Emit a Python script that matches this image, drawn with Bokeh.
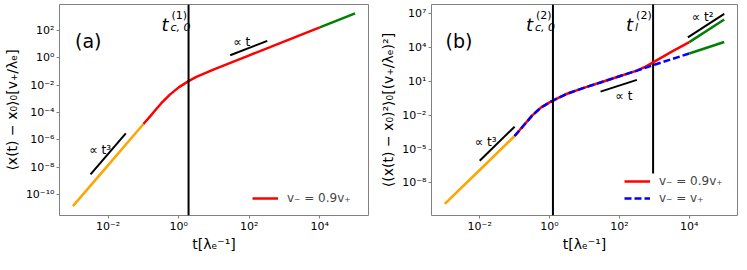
from bokeh.plotting import figure
from bokeh.layouts import row
from bokeh.models import Span, Label, Legend, LegendItem, FixedTicker
from bokeh.embed import file_html
from bokeh.resources import INLINE

FONT = "DejaVu Sans"

# ---------------- data: panel (a) ----------------
a_orange_t = [0.001, 0.01, 0.1]
a_orange_y = [1.41e-11, 1.41e-8, 1.41e-5]
a_red_t = [0.1, 0.178, 0.316, 0.562, 1.0, 1.9, 3.16, 10, 100, 1000, 10000]
a_red_y = [1.41e-5, 7.9e-5, 4.5e-4, 2.0e-3, 6.8e-3, 1.95e-2, 3.98e-2, 0.141, 1.48, 15.5, 166]
a_green_t = [10000, 100000]
a_green_y = [166, 1740]
a_guide3_t = [0.00316, 0.0316]
a_guide3_y = [2.95e-9, 2.95e-6]
a_guide1_t = [28.8, 324]
a_guide1_y = [1.51, 17.0]
a_tc = 1.9

# ---------------- data: panel (b) ----------------
b_orange_t = [0.001, 0.01, 0.1]
b_orange_y = [1.41e-10, 1.41e-7, 1.41e-4]
b_red_t = [0.1, 0.178, 0.316, 0.562, 1.0, 1.78, 3.16, 10, 31.6, 100, 316,
           562, 1000, 1780, 3160, 5620, 10000]
b_red_y = [1.41e-4, 1.12e-3, 8.9e-3, 4.47e-2, 0.132, 0.331, 0.759, 2.63, 8.32, 26.3, 83.2,
           191, 525, 1445, 3981, 10470, 27540]
b_blue_t = [0.1, 0.178, 0.316, 0.562, 1.0, 1.78, 3.16, 10, 31.6, 100, 316,
            1000, 3160, 10000]
b_blue_y = [1.41e-4, 1.12e-3, 8.9e-3, 4.47e-2, 0.132, 0.331, 0.759, 2.63, 8.32, 26.3, 83.2,
            275, 871, 2690]
b_green_hi_t = [10000, 100000]
b_green_hi_y = [27540, 2.75e6]
b_green_lo_t = [10000, 100000]
b_green_lo_y = [2690, 2.82e4]
b_guide3_t = [0.01, 0.1]
b_guide3_y = [9.3e-7, 9.3e-4]
b_guide1_t = [28.8, 316]
b_guide1_y = [1.17, 12.8]
b_guide2_t = [9120, 100000]
b_guide2_y = [7.1e4, 8.5e6]
b_tc = 1.25
b_tl = 920
b_tl_bottom = 6.9e-8

# ---------------- ticks ----------------
x_ticks = [0.01, 1, 100, 10000]
x_tick_labels = ["10⁻²", "10⁰", "10²", "10⁴"]
a_y_ticks = [1e-10, 1e-8, 1e-6, 1e-4, 1e-2, 1, 100]
a_y_tick_labels = ["10⁻¹⁰", "10⁻⁸", "10⁻⁶", "10⁻⁴", "10⁻²", "10⁰", "10²"]
b_y_ticks = [1e-8, 1e-5, 1e-2, 10, 1e4, 1e7]
b_y_tick_labels = ["10⁻⁸", "10⁻⁵", "10⁻²", "10¹", "10⁴", "10⁷"]

X_RANGE = (4.17e-4, 2.4e5)
A_Y_RANGE = (2.9e-12, 7760)
B_Y_RANGE = (1.35e-11, 5.75e7)


def text(p, x, y, s, size, baseline="alphabetic", style="normal", xo=0, yo=0, align="left"):
    p.add_layout(Label(x=x, y=y, text=s, text_font=FONT, text_font_size=size,
                       text_baseline=baseline, text_font_style=style, text_align=align,
                       x_offset=xo, y_offset=yo, text_color="black"))


def make_fig(frame_w, border_left, y_rng, yticks, ylabels, ylabel):
    p = figure(frame_width=frame_w, height=254, x_axis_type="log", y_axis_type="log",
               x_range=X_RANGE, y_range=y_rng, output_backend="svg",
               toolbar_location=None, min_border_left=border_left,
               min_border_right=2, min_border_top=4, min_border_bottom=0)
    p.grid.visible = False
    p.outline_line_color = "#808080"
    p.outline_line_width = 1
    p.background_fill_color = "white"
    p.border_fill_color = "white"
    p.xaxis.ticker = FixedTicker(ticks=x_ticks, minor_ticks=[])
    p.yaxis.ticker = FixedTicker(ticks=yticks, minor_ticks=[])
    p.xaxis.major_label_overrides = dict(zip(x_ticks, x_tick_labels))
    p.yaxis.major_label_overrides = dict(zip(yticks, ylabels))
    for ax in (p.xaxis, p.yaxis):
        ax.axis_line_color = None
        ax.major_tick_line_color = "#808080"
        ax.major_tick_out = 3
        ax.major_tick_in = 0
        ax.minor_tick_line_color = None
        ax.major_label_text_font = FONT
        ax.major_label_text_font_size = "11px"
        ax.major_label_text_color = "black"
        ax.major_label_standoff = 2
        ax.axis_label_text_font = FONT
        ax.axis_label_text_font_size = "14px"
        ax.axis_label_text_font_style = "normal"
        ax.axis_label_text_color = "black"
        ax.axis_label_standoff = 3
    p.xaxis.axis_label_standoff = 0
    p.xaxis.major_label_standoff = 1
    p.yaxis.axis_label = ylabel
    p.xaxis.axis_label = "t[λₑ⁻¹]"
    return p


def vline_label(p, x, ytop, sup, sub):
    text(p, x, ytop, "t", "18px", style="italic", xo=-27, yo=-20)
    text(p, x, ytop, sup, "11px", xo=-17, yo=-11)
    text(p, x, ytop, sub, "11px", style="italic", xo=-18, yo=-23)


def legend(items):
    return Legend(items=items, location=(193, 9), padding=0, margin=0, spacing=1,
                  glyph_width=26, glyph_height=16, label_height=16, label_standoff=9,
                  label_text_font=FONT, label_text_font_size="12px",
                  background_fill_alpha=0, border_line_alpha=0)


# ---------------- panel (a) ----------------
pa = make_fig(309, 52, A_Y_RANGE, a_y_ticks, a_y_tick_labels, "⟨x(t) − x₀⟩₀[v₊/λₑ]")
pa.add_layout(Span(location=a_tc, dimension="height", line_color="black", line_width=2))
pa.line(a_orange_t, a_orange_y, line_color="orange", line_width=2.5)
ra = pa.line(a_red_t, a_red_y, line_color="red", line_width=2.5)
pa.line(a_green_t, a_green_y, line_color="green", line_width=2.5)
pa.line(a_guide3_t, a_guide3_y, line_color="black", line_width=2)
pa.line(a_guide1_t, a_guide1_y, line_color="black", line_width=2)
text(pa, 1.15e-3, 18, "(a)", "19px", baseline="middle")
text(pa, 2.9e-3, 1.7e-7, "∝ t³", "12px")
text(pa, 35, 14.5, "∝ t", "12px")
vline_label(pa, a_tc, A_Y_RANGE[1], "(1)", "c, 0")
pa.add_layout(legend([LegendItem(label="v₋ = 0.9v₊", renderers=[ra])]))

# ---------------- panel (b) ----------------
pb = make_fig(306, 61, B_Y_RANGE, b_y_ticks, b_y_tick_labels, "⟨(x(t) − x₀)²⟩₀[(v₊/λₑ)²]")
pb.add_layout(Span(location=b_tc, dimension="height", line_color="black", line_width=2))
pb.segment(x0=[b_tl], y0=[b_tl_bottom], x1=[b_tl], y1=[B_Y_RANGE[1] * 10],
           line_color="black", line_width=2)
pb.line(b_orange_t, b_orange_y, line_color="orange", line_width=2.5)
rb = pb.line(b_red_t, b_red_y, line_color="red", line_width=2.5)
bb = pb.line(b_blue_t, b_blue_y, line_color="blue", line_width=2.5, line_dash="7 3")
pb.line(b_green_hi_t, b_green_hi_y, line_color="green", line_width=2.5)
pb.line(b_green_lo_t, b_green_lo_y, line_color="green", line_width=2.5)
pb.line(b_guide3_t, b_guide3_y, line_color="black", line_width=2)
pb.line(b_guide1_t, b_guide1_y, line_color="black", line_width=2)
pb.line(b_guide2_t, b_guide2_y, line_color="black", line_width=2)
text(pb, 1.05e-3, 3.8e4, "(b)", "19px", baseline="middle")
text(pb, 7.2e-3, 4.4e-5, "∝ t³", "12px")
text(pb, 76, 0.48, "∝ t", "12px")
text(pb, 1.17e4, 4.9e6, "∝ t²", "12px")
vline_label(pb, b_tc, B_Y_RANGE[1], "(2)", "c, 0")
vline_label(pb, b_tl, B_Y_RANGE[1], "(2)", "l")
pb.add_layout(legend([LegendItem(label="v₋ = 0.9v₊", renderers=[rb]),
                      LegendItem(label="v₋ = v₊", renderers=[bb])]))

layout = row(pa, pb)
open("out.html", "w").write(file_html(layout, INLINE))
